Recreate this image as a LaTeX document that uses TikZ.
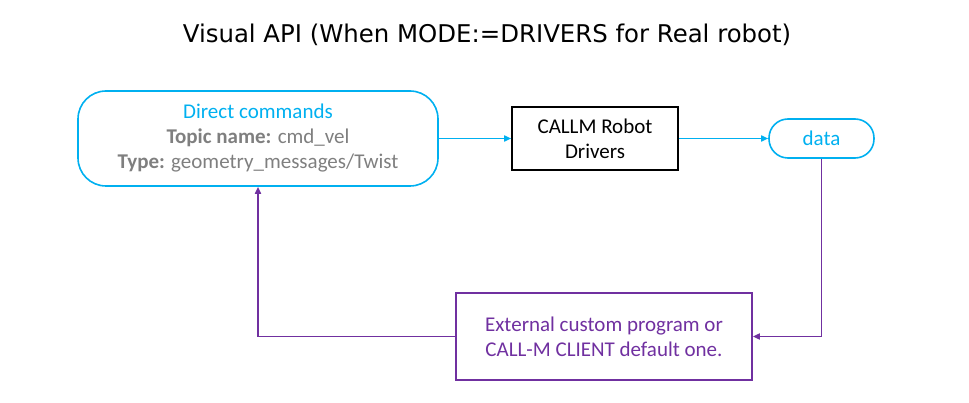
\documentclass[tikz,border=0pt]{standalone}
\usepackage{fontspec}
\setmainfont{Carlito}
\newfontfamily\titlefont{DejaVu Sans}
\usepackage{tikz}
\usetikzlibrary{
  	positioning,
  	arrows.meta,
  	shapes,
  	calc
  }
\definecolor{callmcyan}{HTML}{00B0F0}
\definecolor{callmpurple}{HTML}{7030A0}
\definecolor{callmgray}{HTML}{7F7F7F}
\tikzstyle{topicbox}=[draw=callmcyan,line width=1.6pt,rounded corners=28pt,minimum width=360pt,minimum height=95pt,align=center,inner sep=0pt]
\tikzstyle{drvbox}=[draw=black,line width=1.6pt,minimum width=166pt,minimum height=63pt,align=center,inner sep=0pt]
\tikzstyle{databox}=[draw=callmcyan,line width=1.6pt,rounded corners=19pt,minimum width=105pt,minimum height=39pt,text=callmcyan,inner sep=0pt]
\tikzstyle{progbox}=[draw=callmpurple,line width=1.6pt,minimum width=296pt,minimum height=87pt,align=center,text=callmpurple,inner sep=0pt]
\tikzstyle{cyanarrow}=[draw=callmcyan,line width=1.6pt,-{Triangle[length=7pt,width=6pt]}]
\tikzstyle{purplearrow}=[draw=callmpurple,line width=1.6pt,-{Triangle[length=7pt,width=6pt]}]

\begin{document}
\begin{tikzpicture}[x=1pt,y=-1pt,font=\fontsize{21}{25}\selectfont]
\useasboundingbox (0,0) rectangle (969,403);
\node (title) at (487,35) {\titlefont\fontsize{24.4}{28}\selectfont Visual API (When MODE:=DRIVERS for Real robot)};
\node[topicbox] (cmd) at (258,138.5) {\textcolor{callmcyan}{Direct commands}\\
   \textcolor{callmgray}{\textbf{Topic name:} cmd\_vel}\\
   \textcolor{callmgray}{\textbf{Type:} geometry\_messages/Twist}};
\node[drvbox] (drv) at (595,138.5) {CALLM Robot\\Drivers};
\node[databox] (data) at (821.5,138.5) {data};
\node[progbox] (prog) at (604,336.5) {External custom program or\\CALL-M CLIENT default one.};
\draw[cyanarrow] (cmd.east) -- (drv.west);
\draw[cyanarrow] (drv.east) -- (data.west);
\draw[purplearrow] (data.south) |- (prog.east);
\draw[purplearrow] (prog.west) -| (cmd.south);
\end{tikzpicture}
\end{document}
